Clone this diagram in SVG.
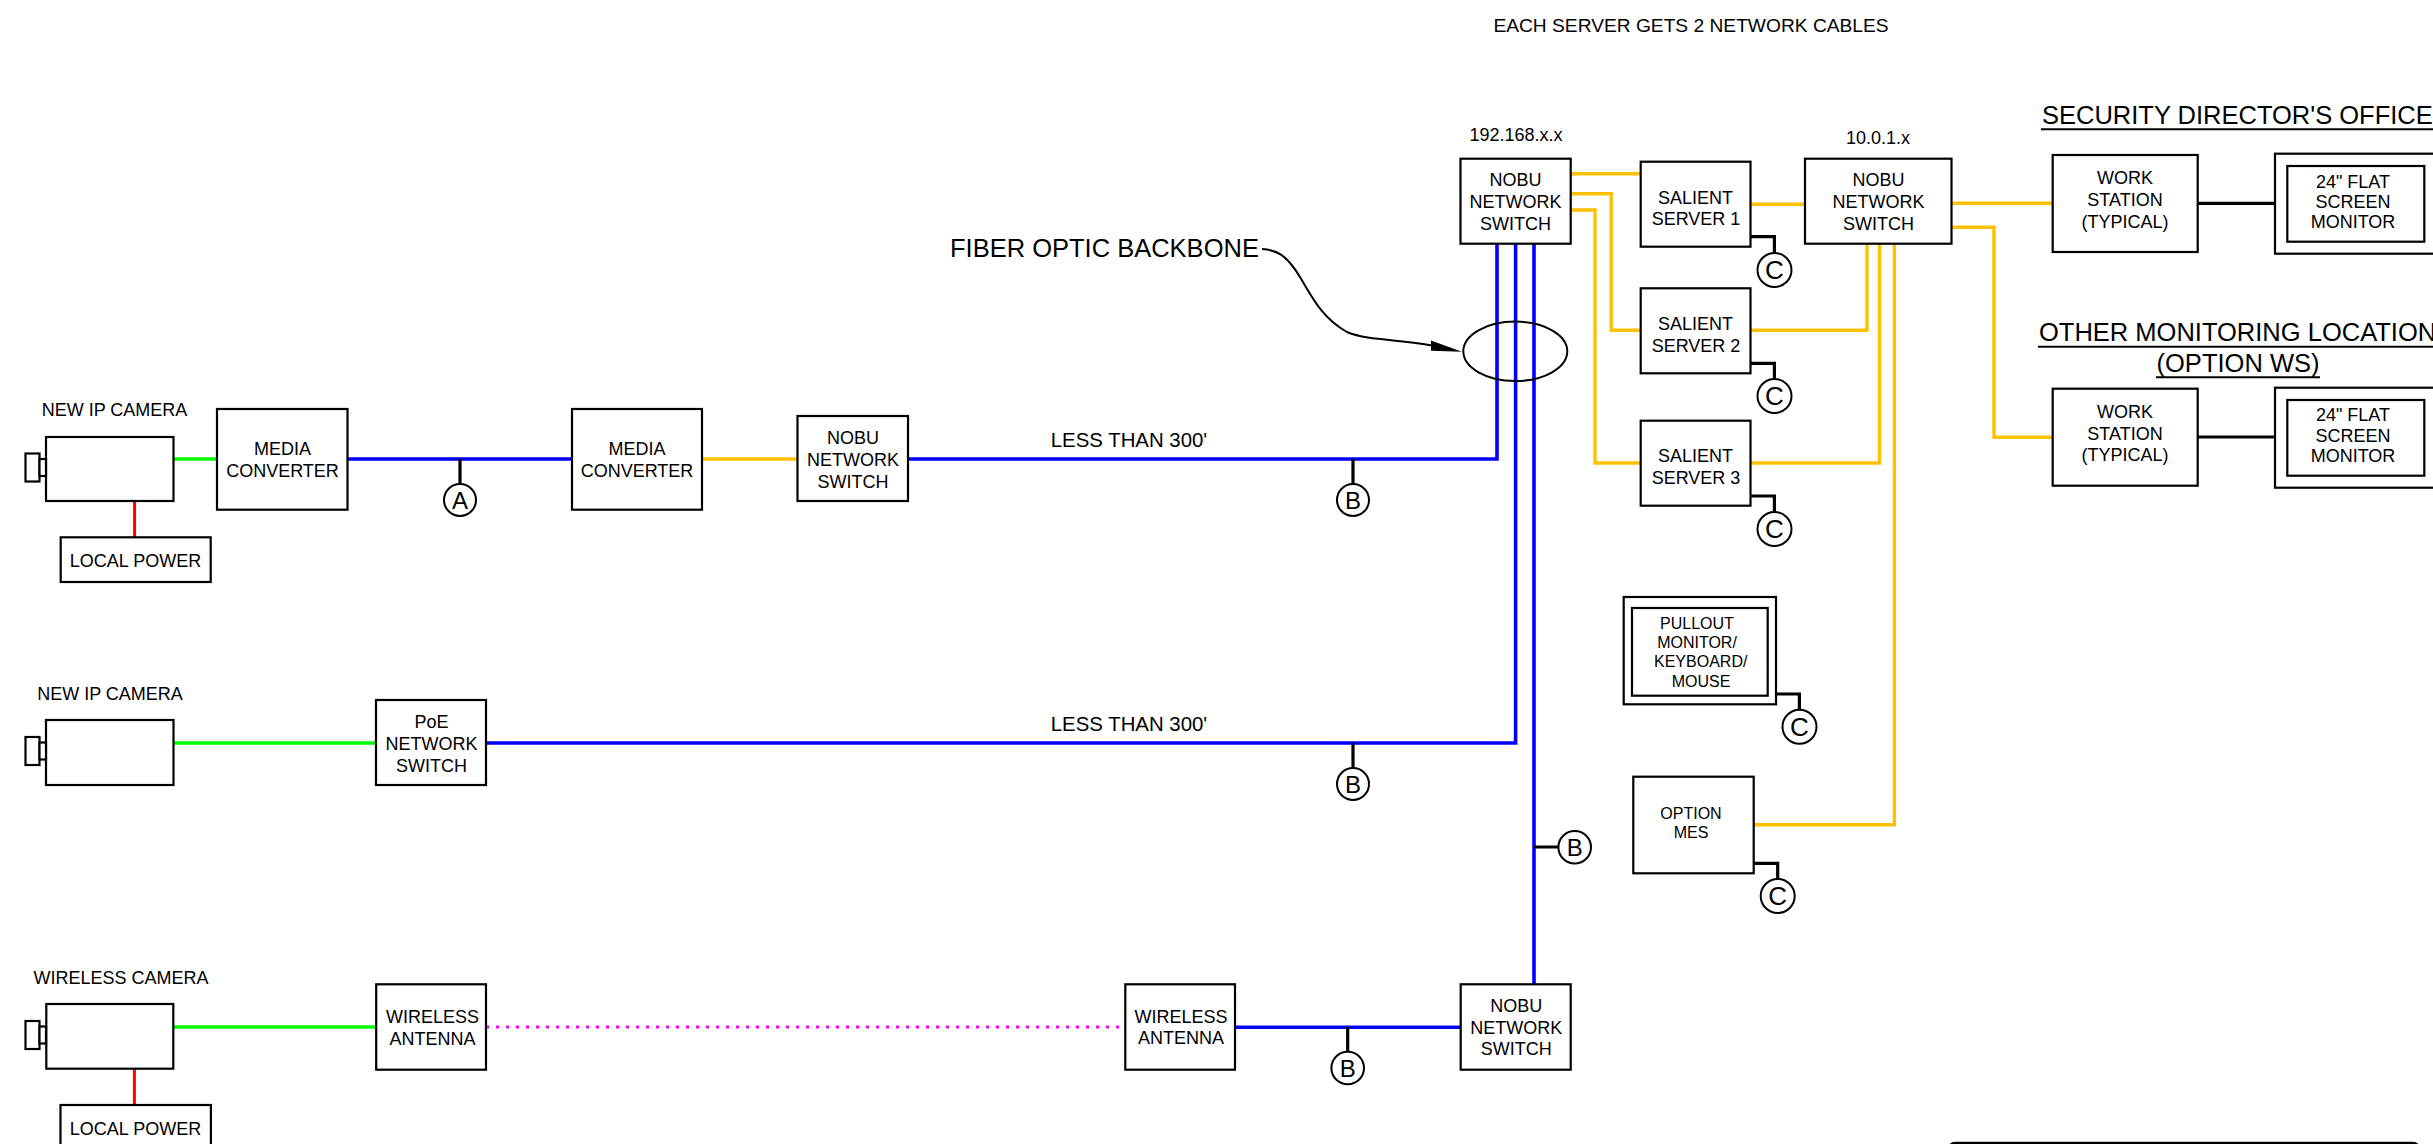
<svg xmlns="http://www.w3.org/2000/svg" width="2433" height="1144" viewBox="0 0 2433 1144">
<style>
text{font-family:"Liberation Sans",Arial,sans-serif;font-size:18px;fill:#000;text-anchor:middle}
.l{font-size:25.5px}
.s{font-size:16px}
.m{font-size:20.4px}
.h{font-size:19.2px}
.st{text-anchor:start}
.box{fill:#fff;stroke:#000;stroke-width:2.2}
.blue,.or,.gr,.rd,.blk,.thin,.dot{fill:none}
.blue{stroke:#0000ff;stroke-width:3.6}
.or{stroke:#ffc000;stroke-width:3.4}
.gr{stroke:#00ff00;stroke-width:3.4}
.rd{stroke:#ff0000;stroke-width:3}
.blk{stroke:#000;stroke-width:3.2}
.thin{stroke:#000;stroke-width:2}
.dot{stroke:#ff00ff;stroke-width:3;stroke-dasharray:3 7}
.tag{fill:#fff;stroke:#000;stroke-width:2}
.ta{font-size:24px}
.tc{font-size:26px}
</style>
<defs>
<g id="lens"><rect class="box" x="25.5" y="0" width="14" height="28"/><rect class="box" x="39.5" y="5.5" width="6.5" height="17"/></g>
</defs>
<g id="connectors">
<path class="gr" d="M173 459H217M173 743H376M173 1027H376"/>
<path class="rd" d="M134.6 501V537M134.4 1068V1105"/>
<path class="blue" d="M347 459H572M908 459H1497V243M486 743H1515.6V243M1534 243V984M1235 1027.3H1461"/>
<path class="or" d="M702 459H798M1570 173.7H1641M1570 193.7H1611.2V330.3H1641M1570 210H1595V463H1641M1750 204.3H1805M1750 330.3H1867V243M1750 463H1879.5V243M1894.4 243V824.7H1753M1951 203.3H2053M1951 227.3H1994V437.3H2053"/>
<path class="blk" d="M2197 203.3H2276M2197 437H2276M460 459V484M1353 459V484M1353 743V768M1347.7 1027V1052M1534 847H1558M1750 236.7H1774.4V253M1750 363.3H1774.4V379M1750 496H1774.4V512M1776 694H1799.4V710M1753 863.3H1777.7V879"/>
<path class="dot" d="M486 1027H1126"/>
<path class="thin" d="M1262 249C1280 250 1289 259 1300 277C1312 297 1322 318 1347 332C1368 341 1400 339 1432 345.5"/>
<polygon points="1462,351.7 1431,340.5 1431,350.7" fill="#000"/>
</g>
<g id="backbone"><ellipse cx="1515.3" cy="351.3" rx="52" ry="29.7" fill="none" stroke="#000" stroke-width="2"/></g>
<g id="camera-1"><rect class="box" x="46" y="437" width="127.5" height="64"/><use href="#lens" y="453.5"/><text x="114.5" y="415.7">NEW IP CAMERA</text></g>
<g id="power-1"><rect class="box" x="60.7" y="537.3" width="150" height="44.7"/><text x="135.5" y="567">LOCAL POWER</text></g>
<g id="media-1"><rect class="box" x="217" y="409" width="130.5" height="100.7"/><text x="282.5" y="455">MEDIA</text><text x="282.5" y="477">CONVERTER</text></g>
<g id="media-2"><rect class="box" x="572" y="409" width="130" height="100.7"/><text x="637" y="455">MEDIA</text><text x="637" y="477">CONVERTER</text></g>
<g id="switch-1"><rect class="box" x="797.5" y="416" width="110.5" height="85"/><text x="853" y="444">NOBU</text><text x="853" y="466">NETWORK</text><text x="853" y="487.5">SWITCH</text></g>
<g id="camera-2"><rect class="box" x="46" y="720" width="127.5" height="65"/><use href="#lens" y="737"/><text x="110" y="700">NEW IP CAMERA</text></g>
<g id="poe-switch"><rect class="box" x="376" y="700" width="110" height="85"/><text x="431.5" y="728">PoE</text><text x="431.5" y="750">NETWORK</text><text x="431.5" y="771.5">SWITCH</text></g>
<g id="camera-3"><rect class="box" x="46.3" y="1004" width="127" height="64.7"/><use href="#lens" y="1021"/><text x="121" y="984">WIRELESS CAMERA</text></g>
<g id="power-2"><rect class="box" x="60.5" y="1105" width="150.4" height="50"/><text x="135.5" y="1135">LOCAL POWER</text></g>
<g id="antenna-1"><rect class="box" x="376.2" y="984.3" width="109.8" height="85.4"/><text x="432.5" y="1023">WIRELESS</text><text x="432.5" y="1044.7">ANTENNA</text></g>
<g id="antenna-2"><rect class="box" x="1125.3" y="984.3" width="109.7" height="85.4"/><text x="1181" y="1022.7">WIRELESS</text><text x="1181" y="1044.3">ANTENNA</text></g>
<g id="switch-4"><rect class="box" x="1460.7" y="984.3" width="110" height="85.4"/><text x="1516.3" y="1012">NOBU</text><text x="1516.3" y="1034">NETWORK</text><text x="1516.3" y="1055">SWITCH</text></g>
<g id="switch-2"><rect class="box" x="1460.5" y="158.7" width="110.2" height="85"/><text x="1516" y="141">192.168.x.x</text><text x="1515.6" y="186.3">NOBU</text><text x="1515.6" y="208">NETWORK</text><text x="1515.6" y="229.7">SWITCH</text></g>
<g id="server-1"><rect class="box" x="1640.7" y="161.7" width="109.8" height="85"/><text x="1695.5" y="203.7">SALIENT</text><text x="1696" y="225">SERVER 1</text></g>
<g id="server-2"><rect class="box" x="1640.7" y="288.3" width="109.8" height="85"/><text x="1695.5" y="330">SALIENT</text><text x="1696" y="351.7">SERVER 2</text></g>
<g id="server-3"><rect class="box" x="1640.7" y="420.7" width="109.8" height="85"/><text x="1695.5" y="462.3">SALIENT</text><text x="1696" y="484">SERVER 3</text></g>
<g id="switch-3"><rect class="box" x="1805" y="158.7" width="146.5" height="85"/><text x="1878" y="144.3">10.0.1.x</text><text x="1878.4" y="186.3">NOBU</text><text x="1878.4" y="208">NETWORK</text><text x="1878.4" y="229.7">SWITCH</text></g>
<g id="workstation-1"><rect class="box" x="2052.7" y="155" width="145" height="97"/><text x="2125" y="184.3">WORK</text><text x="2125" y="206">STATION</text><text x="2125" y="227.7">(TYPICAL)</text></g>
<g id="monitor-1"><rect class="box" x="2275" y="153.7" width="170" height="100"/><rect class="box" x="2287.3" y="166" width="137" height="75.7"/><text x="2353" y="187.7">24" FLAT</text><text x="2353" y="208.3">SCREEN</text><text x="2353" y="228">MONITOR</text></g>
<g id="workstation-2"><rect class="box" x="2052.7" y="388.7" width="145" height="97"/><text x="2125" y="418">WORK</text><text x="2125" y="439.7">STATION</text><text x="2125" y="461.3">(TYPICAL)</text></g>
<g id="monitor-2"><rect class="box" x="2275" y="387.7" width="170" height="100"/><rect class="box" x="2287.3" y="400" width="137" height="75.7"/><text x="2353" y="421.3">24" FLAT</text><text x="2353" y="442">SCREEN</text><text x="2353" y="461.7">MONITOR</text></g>
<g id="pullout"><rect class="box" x="1623.7" y="597" width="152.3" height="107.3"/><rect class="box" x="1632" y="608" width="135.7" height="87.7"/><text class="s" x="1697" y="629.3">PULLOUT</text><text class="s" x="1697" y="648.3">MONITOR/</text><text class="s" x="1700.7" y="667.3">KEYBOARD/</text><text class="s" x="1701" y="687">MOUSE</text></g>
<g id="option-mes"><rect class="box" x="1633.3" y="776.7" width="120.4" height="96.6"/><text class="s" x="1691" y="818.7">OPTION</text><text class="s" x="1691" y="837.7">MES</text></g>
<g id="tag-a"><circle class="tag" cx="460" cy="500" r="16"/><text class="ta" x="460" y="508.5">A</text></g>
<g id="tag-b1"><circle class="tag" cx="1353" cy="500" r="16"/><text class="ta" x="1353" y="508.5">B</text></g>
<g id="tag-b2"><circle class="tag" cx="1353" cy="784" r="16"/><text class="ta" x="1353" y="792.5">B</text></g>
<g id="tag-b3"><circle class="tag" cx="1574.7" cy="847.3" r="16.3"/><text class="ta" x="1574.7" y="855.8">B</text></g>
<g id="tag-b4"><circle class="tag" cx="1347.7" cy="1068" r="16.3"/><text class="ta" x="1347.7" y="1076.5">B</text></g>
<g id="tag-c1"><circle class="tag" cx="1774.5" cy="270" r="17"/><text class="tc" x="1774.5" y="279">C</text></g>
<g id="tag-c2"><circle class="tag" cx="1774.5" cy="396" r="17"/><text class="tc" x="1774.5" y="405">C</text></g>
<g id="tag-c3"><circle class="tag" cx="1774.5" cy="529" r="17"/><text class="tc" x="1774.5" y="538">C</text></g>
<g id="tag-c4"><circle class="tag" cx="1799.5" cy="726.7" r="17"/><text class="tc" x="1799.5" y="735.7">C</text></g>
<g id="tag-c5"><circle class="tag" cx="1777.7" cy="896" r="17"/><text class="tc" x="1777.7" y="905">C</text></g>
<g id="labels">
<text class="h" x="1691" y="32.3">EACH SERVER GETS 2 NETWORK CABLES</text>
<text class="l st" x="950" y="257">FIBER OPTIC BACKBONE</text>
<text class="m" x="1129" y="447">LESS THAN 300'</text>
<text class="m" x="1129" y="731">LESS THAN 300'</text>
<text class="l st" x="2042" y="123.7">SECURITY DIRECTOR'S OFFICE</text>
<path class="thin" d="M2041 129.3H2433M2038 346.7H2433M2156 377.3H2320"/>
<text class="l st" x="2039" y="341">OTHER MONITORING LOCATION</text>
<text class="l" x="2238" y="371.7">(OPTION WS)</text>
<rect x="1947.5" y="1143" width="473" height="30" rx="8" fill="none" stroke="#000" stroke-width="2.5"/>
</g>
</svg>
